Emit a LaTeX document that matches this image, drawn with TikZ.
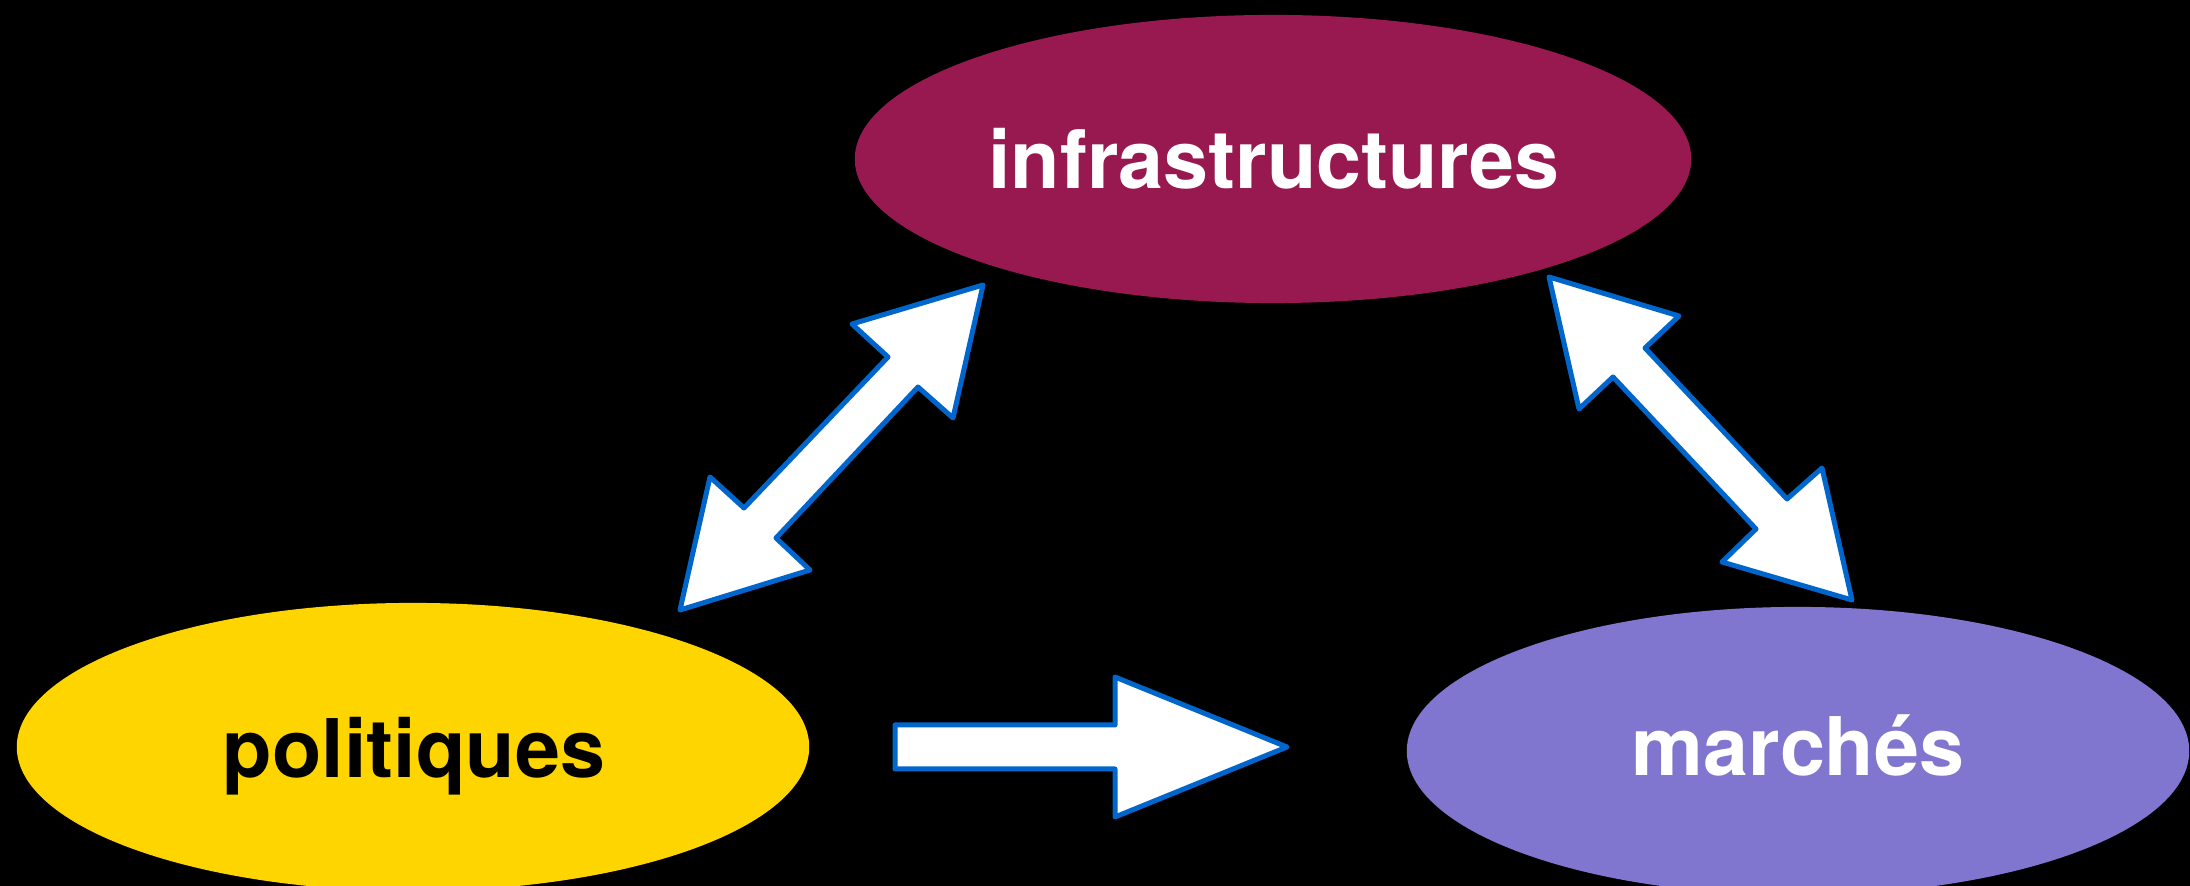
\documentclass[tikz,border=0pt]{standalone}
\usepackage{fontspec}
\setmainfont{TeX Gyre Heros}
\usetikzlibrary{shapes.geometric}
\definecolor{infracol}{RGB}{151,25,80}
\definecolor{policol}{RGB}{255,213,0}
\definecolor{marchcol}{RGB}{129,118,207}
\definecolor{arrowblue}{RGB}{0,102,204}
\tikzset{
  blob/.style={ellipse, inner sep=0pt, outer sep=0pt},
  lbl/.style={anchor=base, inner sep=0pt, font=\fontsize{23}{27}\selectfont\bfseries},
  blockarrow/.style={draw=arrowblue, fill=white, line width=0.05cm, line join=round}
}
\begin{document}
\begin{tikzpicture}[x=0.01cm, y=-0.01cm]
\fill[black] (0,0) rectangle (2190,886);
\useasboundingbox (0,0) rectangle (2190,886);

\node[blob, fill=infracol, minimum width=8.36cm, minimum height=2.88cm] (infra) at (1273,159) {};
\node[blob, fill=policol, minimum width=7.92cm, minimum height=2.88cm] (poli) at (413,747) {};
\node[blob, fill=marchcol, minimum width=7.82cm, minimum height=2.88cm] (march) at (1798,751) {};

\node[lbl, text=white] (infraT) at (1274,189) {infrastructures};
\node[lbl, text=black] (poliT) at (414,778) {politiques};
\node[lbl, text=white] (marchT) at (1798,776) {marchés};

% double arrow politiques <-> infrastructures
\draw[blockarrow] (983,285) -- (953,418) -- (918,387) -- (776,538) -- (810,570)
  -- (680,610) -- (710,477) -- (744,508) -- (888,357) -- (852,324) -- cycle;
% double arrow infrastructures <-> marches
\draw[blockarrow] (1549,277) -- (1679,316) -- (1645,348) -- (1787,499) -- (1822,468)
  -- (1852,600) -- (1722,562) -- (1756,529) -- (1613,377) -- (1579,409) -- cycle;
% arrow politiques -> marches
\draw[blockarrow] (895,725) -- (1115,725) -- (1115,677) -- (1287,747)
  -- (1115,817) -- (1115,769) -- (895,769) -- cycle;
\end{tikzpicture}
\end{document}
